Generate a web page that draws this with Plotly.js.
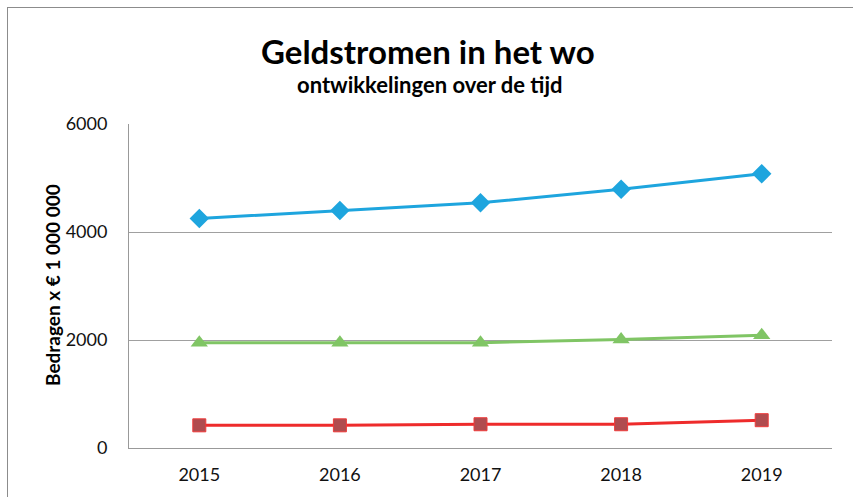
<!DOCTYPE html>
<html>
<head>
<meta charset="utf-8">
<script src="https://cdn.plot.ly/plotly-3.0.1.min.js"></script>
<style>
html,body{margin:0;padding:0;overflow:hidden;background:#fff;}
#frame{position:absolute;left:7px;top:7px;width:900px;height:600px;border:1px solid #8c8c8c;box-sizing:border-box;pointer-events:none;z-index:5;}
#chart{position:absolute;left:0;top:0;width:853px;height:497px;}
</style>
</head>
<body>
<div id="chart"></div>
<div id="frame"></div>
<script>
const years = ["2015", "2016", "2017", "2018", "2019"];
const seriesBlue = [4250, 4400, 4540, 4790, 5080];
const seriesGreen = [1950, 1950, 1950, 2010, 2090];
const seriesRed = [420, 420, 440, 440, 515];
const yTicks = [0, 2000, 4000, 6000];

const font = "Lato, 'Open Sans', sans-serif";

const traces = [
  {x: years, y: seriesBlue, type: 'scatter', mode: 'lines+markers',
   line: {color: '#1ea5de', width: 3},
   marker: {symbol: 'diamond', size: 15, color: '#1ea5de'}},
  {x: years, y: seriesRed, type: 'scatter', mode: 'lines+markers',
   line: {color: '#ee2b2b', width: 3},
   marker: {symbol: 'square', size: 13, color: '#b04c4f', line: {color: '#ee3b3b', width: 1}}},
  {x: years, y: seriesGreen, type: 'scatter', mode: 'lines+markers',
   line: {color: '#80c565', width: 3},
   marker: {symbol: 'triangle-up', size: 15, color: '#80c565'}}
];

const W = 853, H = 497, L = 129, R = 21, T = 124, B = 49;
const pw = W - L - R, ph = H - T - B;
function px(x){ return (x - L) / pw; }
function py(y){ return 1 + (T - y) / ph; }

const layout = {
  width: W, height: H,
  margin: {l: L, r: R, t: T, b: B},
  paper_bgcolor: '#fff', plot_bgcolor: '#fff',
  showlegend: false,
  font: {family: font, color: '#111', size: 14},
  xaxis: {type: 'category', range: [-0.5, 4.5], showgrid: false, zeroline: false,
          showline: true, linecolor: '#999', linewidth: 1, ticks: '',
          tickfont: {size: 18, family: font, color: '#111'}, ticklabelstandoff: 10, fixedrange: true},
  yaxis: {range: [0, 6000], tickvals: yTicks, ticktext: yTicks.map(String),
          showgrid: true, gridcolor: '#a0a0a0', gridwidth: 1, zeroline: false,
          showline: true, linecolor: '#999', linewidth: 1, ticks: '',
          tickfont: {size: 18, family: font, color: '#111'}, ticklabelstandoff: 17, fixedrange: true},
  annotations: [
    {text: '<b>Geldstromen in het wo</b>', xref: 'paper', yref: 'paper', x: px(428), y: py(50.5),
     xanchor: 'center', yanchor: 'middle', showarrow: false, font: {size: 33, family: font, color: '#000'}},
    {text: '<b>ontwikkelingen over de tijd</b>', xref: 'paper', yref: 'paper', x: px(430), y: py(85),
     xanchor: 'center', yanchor: 'middle', showarrow: false, font: {size: 22, family: font, color: '#000'}},
    {text: '<b>Bedragen x € 1 000 000</b>', xref: 'paper', yref: 'paper', x: px(52), y: py(285),
     xanchor: 'center', yanchor: 'middle', textangle: -90, showarrow: false, font: {size: 19, family: font, color: '#000'}}
  ]
};

Plotly.newPlot('chart', traces, layout, {displayModeBar: false, staticPlot: true});
</script>
</body>
</html>
